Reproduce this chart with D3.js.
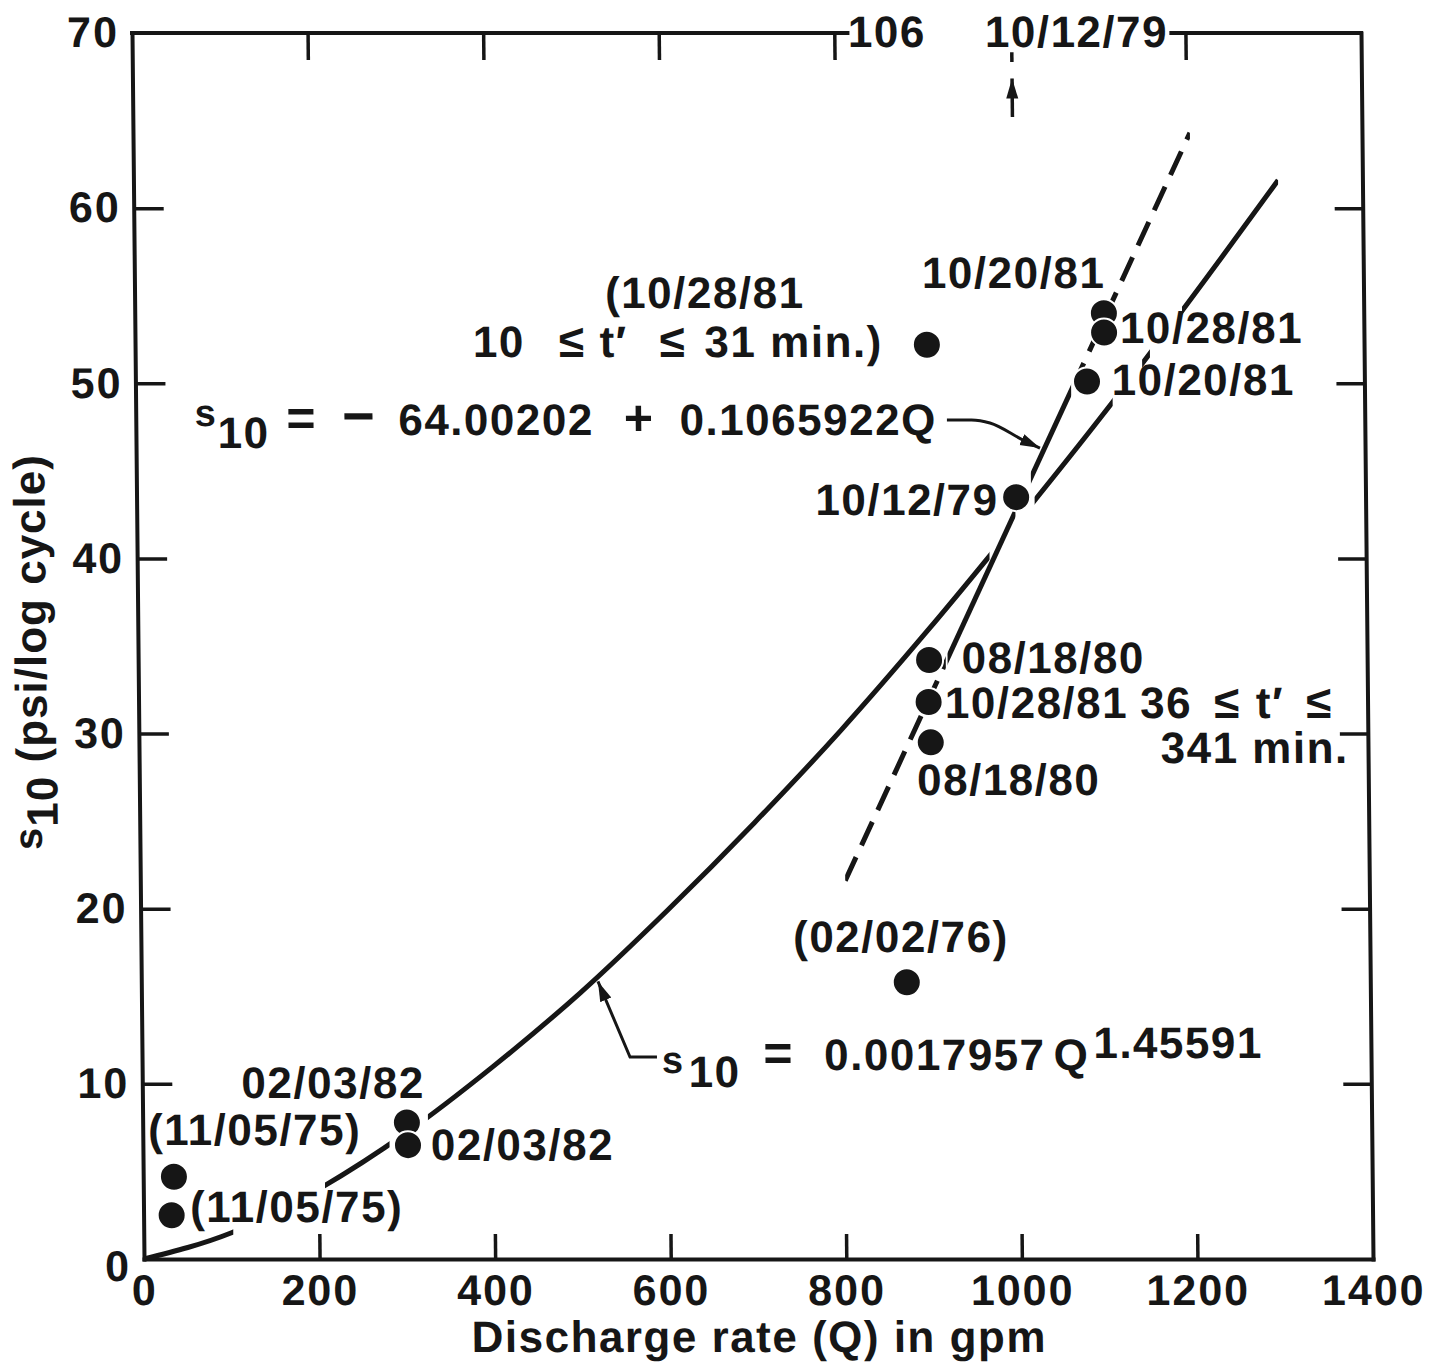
<!DOCTYPE html>
<html lang="en">
<head>
<meta charset="utf-8">
<title>s10 versus discharge rate</title>
<script src="https://cdn.jsdelivr.net/npm/d3@7"></script>
<style>
  body { margin: 0; background: #fff; }
  svg text { font-family: "Liberation Sans", Arial, sans-serif; font-weight: bold; fill: #161616; }
  .axis path, .axis line { stroke: #161616; }
</style>
</head>
<body>
<script>
const xTicks = [0, 200, 400, 600, 800, 1000, 1200, 1400];
const yTicks = [0, 10, 20, 30, 40, 50, 60, 70];
const topTicks = [200, 400, 600, 800, 1200];
const sideTicks = [10, 20, 30, 40, 50, 60];

// measured points: discharge (gpm) and s10 (psi/log cycle)
const pointQ = [35, 32, 301, 302, 872, 901, 900, 902, 1002, 1084, 1104, 1104, 902];
const pointS = [4.7, 2.5, 7.8, 6.5, 15.8, 34.2, 31.8, 29.5, 43.5, 50.1, 54.0, 52.9, 52.2];

// power-law fit curve
const curveQ = [0, 100, 200, 300, 400, 500, 600, 700, 800, 900, 1000, 1100, 1200, 1304];
const curveS = [0, 1.5, 4.0, 7.2, 11.0, 15.2, 19.9, 24.9, 30.2, 35.9, 41.9, 48.1, 54.6, 61.6];
// the curve is broken around labels and dots
const curvePieces = [[0, 102], [207, 281], [325, 971], [1023, 1113], [1147, 1156], [1193, 1304]];

// straight-line fit
const lineQ = [803, 1204];
const lineS = [21.6, 64.3];
const lineSolid = [[922, 1001], [1019, 1066]];
const lineDashed = [[803, 920], [1072, 1204]];

const topBorder = [[0, 815], [1184, 1400]];

const LE = "\u2264", TP = "t\u2032";
const labels = [
  {q: 536, s: 54.3, a: "start", parts: [{t: "(10/28/81"}]},
  {q: 384.8, s: 51.5, a: "start", parts: [{t: "10"}, {t: LE, dx: 34, size: 46}, {t: TP, dx: 14},
    {t: LE, dx: 32, size: 46}, {t: "31 min.)", dx: 18}]},
  {q: 1106, s: 55.44, a: "end", parts: [{t: "10/20/81"}]},
  {q: 1122, s: 52.3, a: "start", parts: [{t: "10/28/81"}]},
  {q: 1112, s: 49.33, a: "start", parts: [{t: "10/20/81"}]},
  {q: 982, s: 42.48, a: "end", parts: [{t: "10/12/79"}]},
  {q: 938, s: 33.46, a: "start", parts: [{t: "08/18/80"}]},
  {q: 918.5, s: 30.89, a: "start", parts: [{t: "10/28/81"}, {t: "36", dx: 12},
    {t: LE, dx: 22, size: 46}, {t: TP, dx: 15}, {t: LE, dx: 22, size: 46}]},
  {q: 1378, s: 28.32, a: "end", parts: [{t: "341 min."}]},
  {q: 886, s: 26.49, a: "start", parts: [{t: "08/18/80"}]},
  {q: 743, s: 17.53, a: "start", parts: [{t: "(02/02/76)"}]},
  {q: 113, s: 9.19, a: "start", parts: [{t: "02/03/82"}]},
  {q: 6, s: 6.51, a: "start", parts: [{t: "(11/05/75)"}]},
  {q: 328, s: 5.65, a: "start", parts: [{t: "02/03/82"}]},
  {q: 53, s: 2.11, a: "start", parts: [{t: "(11/05/75)"}]},
  {q: 815.5, s: 69.2, a: "start", parts: [{t: "106"}]},
  {q: 971.5, s: 69.2, a: "start", parts: [{t: "10/12/79"}]},
  // fitted equations
  {q: 67.2, s: 47.05, a: "start", parts: [
    {t: "s", dy: -9, size: 38}, {t: "10", dy: 22},
    {t: "=", dx: 17, dy: -13, size: 50}, {t: "\u2212", dx: 25, size: 56}, {t: "64.00202", dx: 22},
    {t: "+", dx: 30, size: 50}, {t: "0.1065922Q", dx: 25}]},
  {q: 592.2, s: 10.79, a: "start", parts: [
    {t: "s", dy: 3, size: 38}, {t: "10", dx: 4, dy: 14},
    {t: "=", dx: 23, dy: -17, size: 50}, {t: "0.0017957", dx: 30}, {t: "Q", dx: 8},
    {t: "1.45591", dx: 4, dy: -12}]}
];

const w = 1429, h = 1366;
const x = d3.scaleLinear().domain([0, 1400]).range([144, 1373]);
const y = d3.scaleLinear().domain([0, 70]).range([1259, 33]);

const svg = d3.select("body").append("svg")
  .attr("width", w).attr("height", h);

// the scanned figure is slightly sheared
const g = svg.append("g")
  .attr("transform", "translate(0," + y(0) + ") skewX(0.561) translate(0," + (-y(0)) + ")");

const defs = svg.append("defs");
defs.append("marker").attr("id", "head")
  .attr("markerUnits", "userSpaceOnUse")
  .attr("markerWidth", 22).attr("markerHeight", 14)
  .attr("refX", 20).attr("refY", 7).attr("orient", "auto")
  .append("path").attr("d", "M0,1 L20,7 L0,13 Z").attr("fill", "#161616");

function styleAxis(sel) {
  sel.select(".domain").attr("stroke-width", 4).attr("stroke-linecap", "square");
  sel.selectAll(".tick line").attr("stroke-width", 3.5);
  sel.selectAll(".tick text")
    .style("font-size", "43px").style("letter-spacing", "2px").attr("fill", "#161616");
}

// bottom axis
const gx = g.append("g").attr("class", "axis")
  .attr("transform", "translate(0," + y(0) + ")")
  .call(d3.axisBottom(x).tickValues(xTicks).tickSizeInner(-25).tickSizeOuter(0)
    .tickPadding(15).tickFormat(d3.format("d")));
gx.selectAll(".tick").filter(d => d === 0 || d === 1400).select("line").remove();
styleAxis(gx);

// left axis
const gy = g.append("g").attr("class", "axis")
  .attr("transform", "translate(" + x(0) + ",0)")
  .call(d3.axisLeft(y).tickValues(yTicks).tickSizeInner(-30).tickSizeOuter(0)
    .tickPadding(13).tickFormat(d3.format("d")));
gy.selectAll(".tick").filter(d => d === 0 || d === 70).select("line").remove();
gy.selectAll(".tick").filter(d => d === 0).select("text").attr("dy", "0.5em");
styleAxis(gy);

// top ticks and broken top border
const gt = g.append("g").attr("class", "axis")
  .attr("transform", "translate(0," + y(70) + ")")
  .call(d3.axisTop(x).tickValues(topTicks).tickSizeInner(-27).tickSizeOuter(0).tickFormat(""));
gt.select(".domain").remove();
styleAxis(gt);
g.selectAll(".topline").data(topBorder).enter().append("line")
  .attr("x1", d => x(d[0])).attr("x2", d => x(d[1]))
  .attr("y1", y(70)).attr("y2", y(70))
  .attr("stroke", "#161616").attr("stroke-width", 4).attr("stroke-linecap", "square");

// right axis
const gr = g.append("g").attr("class", "axis")
  .attr("transform", "translate(" + x(1400) + ",0)")
  .call(d3.axisRight(y).tickValues(sideTicks).tickSizeInner(-28).tickSizeOuter(0).tickFormat(""));
styleAxis(gr);

// clip helpers
function addClip(id, pieces) {
  const cp = defs.append("clipPath").attr("id", id);
  pieces.forEach(p => cp.append("rect")
    .attr("x", x(p[0])).attr("width", x(p[1]) - x(p[0]))
    .attr("y", 0).attr("height", h));
}
addClip("curveClip", curvePieces);
addClip("solidClip", lineSolid);
addClip("dashClip", lineDashed);

const curvy = d3.line().x(d => x(d[0])).y(d => y(d[1])).curve(d3.curveMonotoneX);
const straight = d3.line().x(d => x(d[0])).y(d => y(d[1]));
const curveData = curveQ.map((q, i) => [q, curveS[i]]);
const fitData = lineQ.map((q, i) => [q, lineS[i]]);

g.append("path").datum(curveData).attr("d", curvy)
  .attr("fill", "none").attr("stroke", "#161616").attr("stroke-width", 5)
  .attr("clip-path", "url(#curveClip)");

g.append("path").datum(fitData).attr("d", straight)
  .attr("fill", "none").attr("stroke", "#161616").attr("stroke-width", 5)
  .attr("clip-path", "url(#solidClip)");
g.append("path").datum(fitData).attr("d", straight)
  .attr("fill", "none").attr("stroke", "#161616").attr("stroke-width", 5)
  .attr("stroke-dasharray", "26 13")
  .attr("clip-path", "url(#dashClip)");

// points
g.selectAll(".pt").data(pointQ.map((q, i) => [q, pointS[i]])).enter().append("circle")
  .attr("cx", d => x(d[0])).attr("cy", d => y(d[1])).attr("r", 14)
  .attr("fill", "#161616").attr("stroke", "#fff").attr("stroke-width", 2);

// leader arrows
g.append("path")
  .datum([[924, 47.9], [952, 47.9], [973, 47.73], [1010.5, 46.76], [1029.7, 46.3]])
  .attr("d", curvy).attr("fill", "none").attr("stroke", "#161616").attr("stroke-width", 3)
  .attr("marker-end", "url(#head)");
g.append("path")
  .datum([[586.6, 11.53], [555.9, 11.53], [520.2, 15.85]])
  .attr("d", straight).attr("fill", "none").attr("stroke", "#161616").attr("stroke-width", 3)
  .attr("marker-end", "url(#head)");
g.append("path")
  .datum([[1002, 65.2], [1002, 67.4]])
  .attr("d", straight).attr("fill", "none").attr("stroke", "#161616").attr("stroke-width", 3.5)
  .attr("marker-end", "url(#head)");
g.append("path")
  .datum([[1002, 68.35], [1002, 68.9]])
  .attr("d", straight).attr("fill", "none").attr("stroke", "#161616").attr("stroke-width", 3.5);

// labels
labels.forEach(l => {
  const t = g.append("text").attr("x", x(l.q)).attr("y", y(l.s))
    .attr("text-anchor", l.a)
    .style("font-size", "44px").style("letter-spacing", "1.5px");
  l.parts.forEach(p => {
    const ts = t.append("tspan").text(p.t);
    if (p.dx) ts.attr("dx", p.dx);
    if (p.dy) ts.attr("dy", p.dy);
    if (p.size) ts.style("font-size", p.size + "px");
  });
});

// axis titles
g.append("text")
  .attr("x", (x(0) + x(1400)) / 2).attr("y", 1352)
  .attr("text-anchor", "middle")
  .style("font-size", "44px").style("letter-spacing", "1.5px")
  .text("Discharge rate (Q) in gpm");

const yt = g.append("text")
  .attr("transform", "translate(52,652) rotate(-90)")
  .attr("text-anchor", "middle")
  .style("font-size", "44px").style("letter-spacing", "1px");
yt.append("tspan").text("s").attr("dy", -6).style("font-size", "40px");
yt.append("tspan").text("10").attr("dy", 16);
yt.append("tspan").text(" (psi/log cycle)").attr("dy", -10);
</script>
</body>
</html>
